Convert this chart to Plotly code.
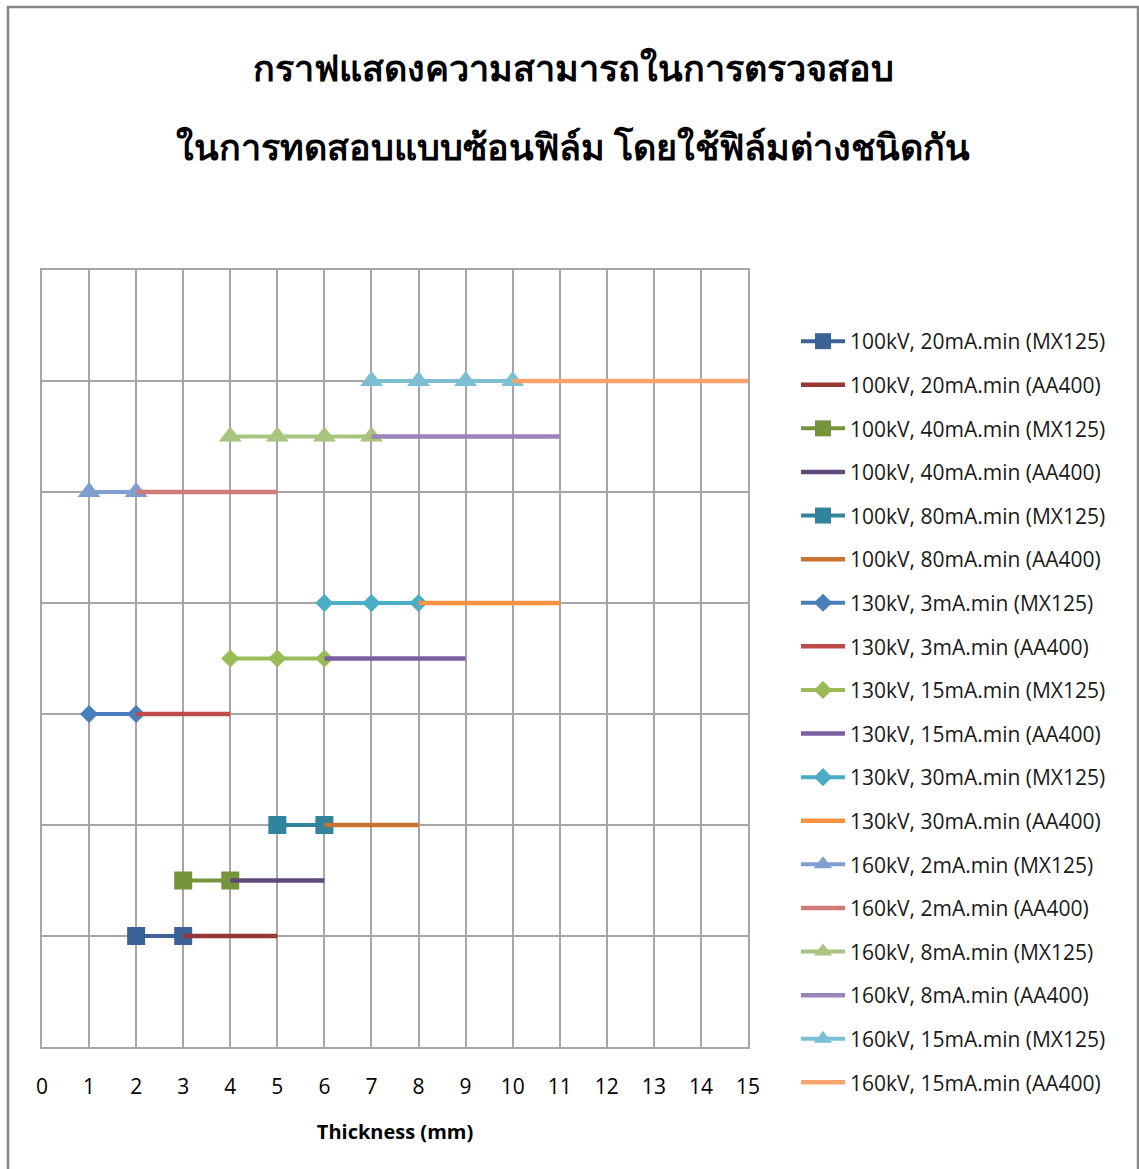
import plotly.graph_objects as go

# Film detectability: MX125 range (markers) continued by AA400 range (plain line)
labels = [
    "100kV, 20mA.min", "100kV, 40mA.min", "100kV, 80mA.min",
    "130kV, 3mA.min", "130kV, 15mA.min", "130kV, 30mA.min",
    "160kV, 2mA.min", "160kV, 8mA.min", "160kV, 15mA.min",
]
levels = [1, 1.5, 2, 3, 3.5, 4, 5, 5.5, 6]

mx125_thickness = [
    [2, 3], [3, 4], [5, 6],
    [1, 2], [4, 5, 6], [6, 7, 8],
    [1, 2], [4, 5, 6, 7], [7, 8, 9, 10],
]
aa400_thickness = [
    [3, 5], [4, 6], [6, 8],
    [2, 4], [6, 9], [8, 11],
    [2, 5], [7, 11], [10, 15],
]

mx125_colors = ["#3B6396", "#77933C", "#31849B",
                "#4A7EBB", "#9BBB59", "#4BACC6",
                "#7E9FD0", "#A9C47F", "#7CBFD2"]
aa400_colors = ["#963735", "#604A7B", "#C8722F",
                "#BE4B48", "#7D5FA0", "#F39241",
                "#D07B79", "#9A85B8", "#F9A46E"]
symbols = ["square"] * 3 + ["diamond"] * 3 + ["triangle-up"] * 3
marker_sizes = [18] * 3 + [14] * 3 + [20] * 3

x_ticks = list(range(0, 16))

title_lines = [
    "กราฟแสดงความสามารถในการตรวจสอบ",
    "ในการทดสอบแบบซ้อนฟิล์ม โดยใช้ฟิล์มต่างชนิดกัน",
]

fig = go.Figure()
for i, name in enumerate(labels):
    fig.add_trace(go.Scatter(
        x=mx125_thickness[i], y=[levels[i]] * len(mx125_thickness[i]),
        mode="lines+markers", name=f"{name} (MX125)", legendgroup=f"g{2*i}",
        line=dict(color=mx125_colors[i], width=4),
        marker=dict(symbol=symbols[i], size=marker_sizes[i], color=mx125_colors[i]),
    ))
    fig.add_trace(go.Scatter(
        x=aa400_thickness[i], y=[levels[i]] * len(aa400_thickness[i]),
        mode="lines", name=f"{name} (AA400)", legendgroup=f"g{2*i+1}",
        line=dict(color=aa400_colors[i], width=4.5),
    ))

fig.update_layout(
    width=1139, height=1169,
    margin=dict(l=42, r=391, t=270, b=122),
    paper_bgcolor="white", plot_bgcolor="white",
    font=dict(family="Open Sans, Lato, sans-serif", color="black"),
    showlegend=True,
    legend=dict(
        x=(796 - 42) / 706, xanchor="left", y=1.0 - (321 - 270) / 777, yanchor="top",
        font=dict(size=21, color="#1a1a1a"),
        tracegroupgap=13.3, bgcolor="rgba(0,0,0,0)",
        itemwidth=44, maxheight=1000,
    ),
    xaxis=dict(
        range=[0, 15], tickmode="array", tickvals=x_ticks,
        showgrid=True, gridcolor="#A6A6A6", gridwidth=1.5,
        showline=True, linecolor="#A6A6A6", linewidth=1.5, mirror=True,
        zeroline=False, ticks="", ticklabelstandoff=20,
        tickfont=dict(size=21, color="black"),
        title=dict(text="<b>Thickness (mm)</b>", standoff=26,
                   font=dict(size=20, color="black")),
    ),
    yaxis=dict(
        range=[0, 7], dtick=1, showticklabels=False,
        showgrid=True, gridcolor="#A6A6A6", gridwidth=1.5,
        showline=True, linecolor="#A6A6A6", linewidth=1.5, mirror=True,
        zeroline=False, ticks="",
    ),
)

# two-line chart title
for line_text, y_px in zip(title_lines, [68, 147]):
    fig.add_annotation(
        text=f"<b>{line_text}</b>", xref="paper", yref="paper",
        x=(573 - 42) / 706, y=(1047 - y_px) / 777,
        xanchor="center", yanchor="middle", showarrow=False,
        font=dict(family="Liberation Serif, serif", size=36, color="black"),
    )

# chart-area frame
fig.add_shape(type="rect", xref="paper", yref="paper",
              x0=(8 - 42) / 706, x1=(1138 - 42) / 706,
              y0=(1047 - 1180) / 777, y1=(1047 - 7) / 777,
              line=dict(color="#868686", width=2.5), layer="below")

fig.write_html("out.html")
